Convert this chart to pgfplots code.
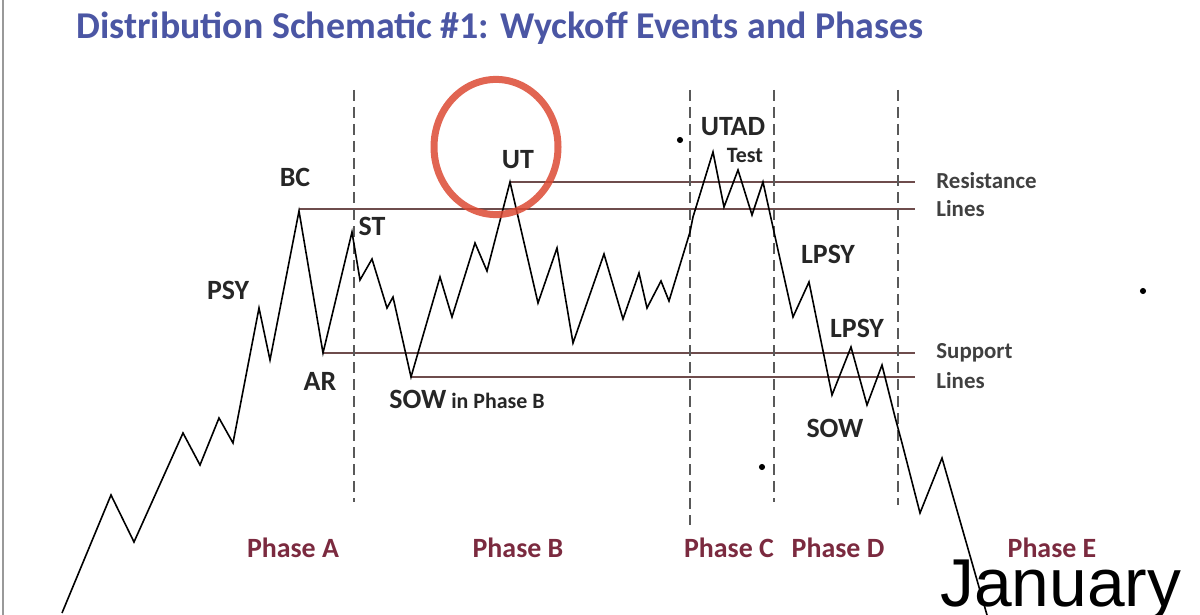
\documentclass[border=0pt]{standalone}
\usepackage{pgfplots}
\pgfplotsset{compat=1.18}
\usepackage{fontspec}
\setmainfont{Carlito}
\newfontfamily\arial{Liberation Sans}
\definecolor{titleblue}{HTML}{4B56A4}
\definecolor{phasered}{HTML}{7B2A3F}
\definecolor{levelline}{HTML}{6E4C4C}
\definecolor{circlered}{HTML}{DC4A34}

\begin{document}
\begin{tikzpicture}
\begin{axis}[
    width=600bp, height=307.5bp,
    scale only axis,
    xmin=0, xmax=1200, ymin=0, ymax=615,
    y dir=reverse,
    hide axis,
    clip=false,
]
% support / resistance levels
\addplot[levelline, line width=0.8bp] coordinates {(510,182) (915,182)};
\addplot[levelline, line width=0.8bp] coordinates {(299,209) (915,209)};
\addplot[levelline, line width=0.8bp] coordinates {(323,353) (915,353)};
\addplot[levelline, line width=0.8bp] coordinates {(411,377) (915,377)};

% phase separators
\foreach \xx/\yy in {354/502, 690/525, 774/502, 898/505} {
  \edef\tmp{\noexpand\addplot[black!65, line width=1.2bp, dash pattern=on 5.5bp off 3bp]
    coordinates {(\xx,90) (\xx,\yy)};}
  \tmp
}

% price path
\addplot[black, line width=0.8bp] coordinates {
  (62,613) (111,495) (134,542) (183,433) (200,465) (219,418) (233,443)
  (259,308) (270,360) (299,211) (323,353) (352,232) (360,280) (372,259)
  (387,308) (393,297) (411,377) (440,277) (452,317) (475,243) (487,271)
  (510,182) (538,303) (557,248) (573,343) (604,254) (623,319) (639,273)
  (647,308) (661,281) (669,301) (690,232) (693,217) (713,152) (724,207)
  (738,170) (752,215) (763,182) (778,250) (793,317) (809,282) (832,395)
  (851,347) (867,405) (882,365) (895,417) (902,443) (920,513) (942,458)
  (987,615)
};

% red circle around UT
\addplot[only marks, mark=o, mark size=31bp,
  mark options={draw=circlered, line width=3.5bp, yscale=1.09, opacity=0.85}]
  coordinates {(496,147)};

% stray dots
\addplot[only marks, mark=*, mark size=1.3bp, black] coordinates {(680,140) (762,467) (1143,291)};

% labels
\tikzset{lbl/.style={font=\fontsize{14}{14}\selectfont\bfseries, text=black!85, inner sep=0pt}}
\node[lbl] at (axis cs:295,177) {BC};
\node[lbl] at (axis cs:228,290) {PSY};
\node[lbl] at (axis cs:320,381) {AR};
\node[lbl] at (axis cs:372,226) {ST};
\node[lbl] at (axis cs:518,160) {UT};
\node[lbl, anchor=base west] at (axis cs:389,408) {SOW\fontsize{11}{11}\selectfont\ in Phase B};
\node[lbl] at (axis cs:733,127) {UTAD};
\node[lbl, font=\fontsize{11}{11}\selectfont\bfseries] at (axis cs:745,155) {Test};
\node[lbl] at (axis cs:828,254) {LPSY};
\node[lbl] at (axis cs:857,328) {LPSY};
\node[lbl] at (axis cs:835,428) {SOW};
\tikzset{side/.style={font=\fontsize{11.5}{11.5}\selectfont\bfseries, text=black!75, inner sep=0pt, anchor=west}}
\node[side] at (axis cs:936,181) {Resistance};
\node[side] at (axis cs:936,209) {Lines};
\node[side] at (axis cs:936,353) {Support};
\node[side] at (axis cs:936,381) {Lines};
\tikzset{phase/.style={font=\fontsize{14}{14}\selectfont\bfseries, text=phasered, inner sep=0pt}}
\node[phase] at (axis cs:293,548) {Phase A};
\node[phase] at (axis cs:518,548) {Phase B};
\node[phase] at (axis cs:729,548) {Phase C};
\node[phase] at (axis cs:838,548) {Phase D};
\node[phase] at (axis cs:1052,548) {Phase E};

\node[font=\fontsize{19}{19}\selectfont\bfseries, text=titleblue, inner sep=0pt]
  at (axis cs:500,28) {Distribution Schematic \#1: Wyckoff Events and Phases};
\node[font=\arial\fontsize{34}{34}\selectfont, text=black, inner sep=0pt, anchor=base west]
  at (axis cs:940,606) {January};

\addplot[black!40, line width=1bp] coordinates {(3,0) (3,615)};

\coordinate (tl) at (axis cs:0,0);
\coordinate (br) at (axis cs:1200,615);
\end{axis}
\pgfresetboundingbox
\path[use as bounding box] (tl) rectangle (br);
\end{tikzpicture}
\end{document}
